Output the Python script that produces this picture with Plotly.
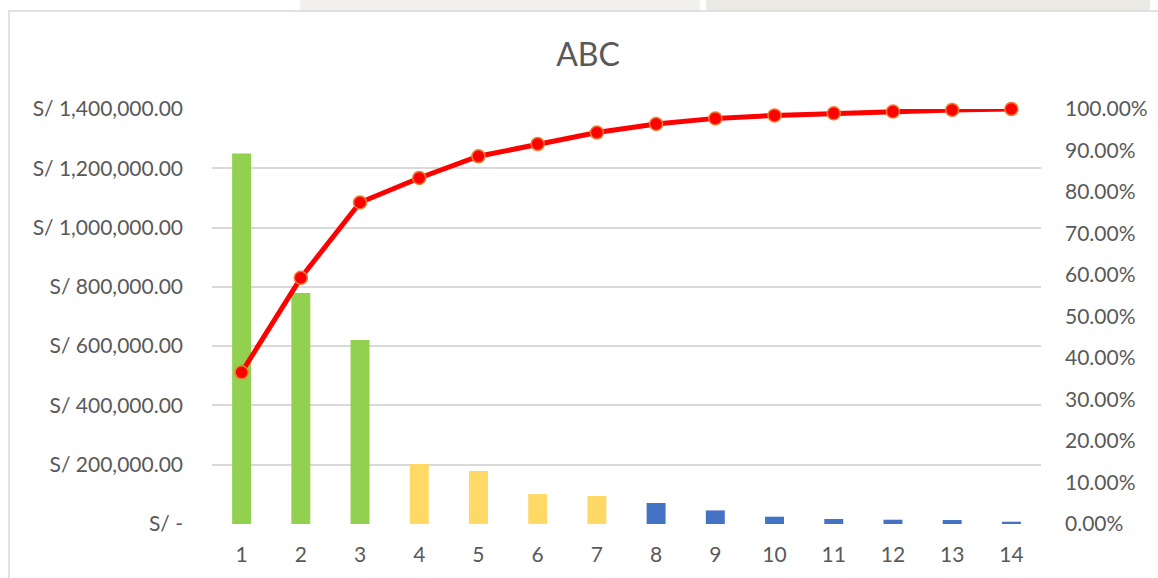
import plotly.graph_objects as go

# Pareto (ABC) data
items = [str(i) for i in range(1, 15)]
values = [1250000, 779000, 621000, 202000, 179000, 101000, 94500,
          70800, 45900, 24600, 16900, 14500, 13500, 7800]
classes = ["A", "A", "A", "B", "B", "B", "B",
           "C", "C", "C", "C", "C", "C", "C"]
class_colors = {"A": "#92D050", "B": "#FFD966", "C": "#4472C4"}

left_ticks = [0, 200000, 400000, 600000, 800000, 1000000, 1200000, 1400000]
left_labels = ["S/ -", "S/ 200,000.00", "S/ 400,000.00", "S/ 600,000.00",
               "S/ 800,000.00", "S/ 1,000,000.00", "S/ 1,200,000.00",
               "S/ 1,400,000.00"]
right_ticks = [i / 10 for i in range(11)]
right_labels = [f"{i * 10}.00%" for i in range(11)]

# cumulative share of the total
total = sum(values)
cum = []
running = 0
for v in values:
    running += v
    cum.append(running / total)

FONT = "Lato"
TXT = "#595959"
GRID = "#D9D9D9"

W, H = 1158, 578
L, R, T, B = 212, 117, 109, 54
PW, PH = W - L - R, H - T - B


def px(x):
    return (x - L) / PW


def py(y):
    return (H - B - y) / PH


fig = go.Figure()

fig.add_trace(go.Bar(
    x=items, y=values,
    marker=dict(color=[class_colors[c] for c in classes], line=dict(width=0)),
    width=0.32,
    yaxis="y",
    showlegend=False,
))

fig.add_trace(go.Scatter(
    x=items, y=cum,
    mode="lines+markers",
    line=dict(color="#FF0000", width=5),
    marker=dict(color="#FF0000", size=13, line=dict(color="#ED7D31", width=1.5)),
    yaxis="y2",
    cliponaxis=False,
    showlegend=False,
))

shapes = [
    # faint strip above the chart frame
    dict(type="rect", xref="paper", yref="paper",
         x0=px(300), x1=px(700), y0=py(11), y1=py(-2),
         fillcolor="#F1F0EC", line=dict(width=0), layer="below"),
    dict(type="rect", xref="paper", yref="paper",
         x0=px(706), x1=px(1150), y0=py(11), y1=py(-2),
         fillcolor="#EAEAE2", line=dict(width=0), layer="below"),
    # chart frame
    dict(type="rect", xref="paper", yref="paper",
         x0=px(9), x1=px(1170), y0=py(590), y1=py(11),
         fillcolor="white", line=dict(color=GRID, width=1.5), layer="below"),
]

fig.update_layout(
    width=W, height=H,
    margin=dict(l=L, r=R, t=T, b=B, pad=0, autoexpand=False),
    paper_bgcolor="white",
    plot_bgcolor="rgba(0,0,0,0)",
    font=dict(family=FONT, color=TXT, size=21),
    title=dict(text="ABC", x=(588) / W, xanchor="center",
               yref="container", y=1 - 55 / H, yanchor="middle",
               font=dict(family=FONT, size=32, color=TXT)),
    xaxis=dict(
        type="category", automargin=False,
        range=[-0.5, len(items) - 0.5],
        showgrid=False, showline=False, zeroline=False,
        ticks="", ticklabelstandoff=16,
        tickfont=dict(family=FONT, size=21, color=TXT),
    ),
    yaxis=dict(
        range=[0, 1400000], automargin=False,
        tickvals=left_ticks, ticktext=left_labels,
        showgrid=True, gridcolor=GRID, gridwidth=1.5,
        zeroline=False, showline=False, ticks="",
        ticklabelstandoff=28,
        tickfont=dict(family=FONT, size=21, color=TXT),
    ),
    yaxis2=dict(
        range=[0, 1], automargin=False,
        overlaying="y", side="right",
        tickvals=right_ticks, ticktext=right_labels,
        showgrid=False, zeroline=False, showline=False, ticks="",
        ticklabelstandoff=23,
        tickfont=dict(family=FONT, size=21, color=TXT),
    ),
    shapes=shapes,
    bargap=0.68,
)

fig.write_html("out.html")
